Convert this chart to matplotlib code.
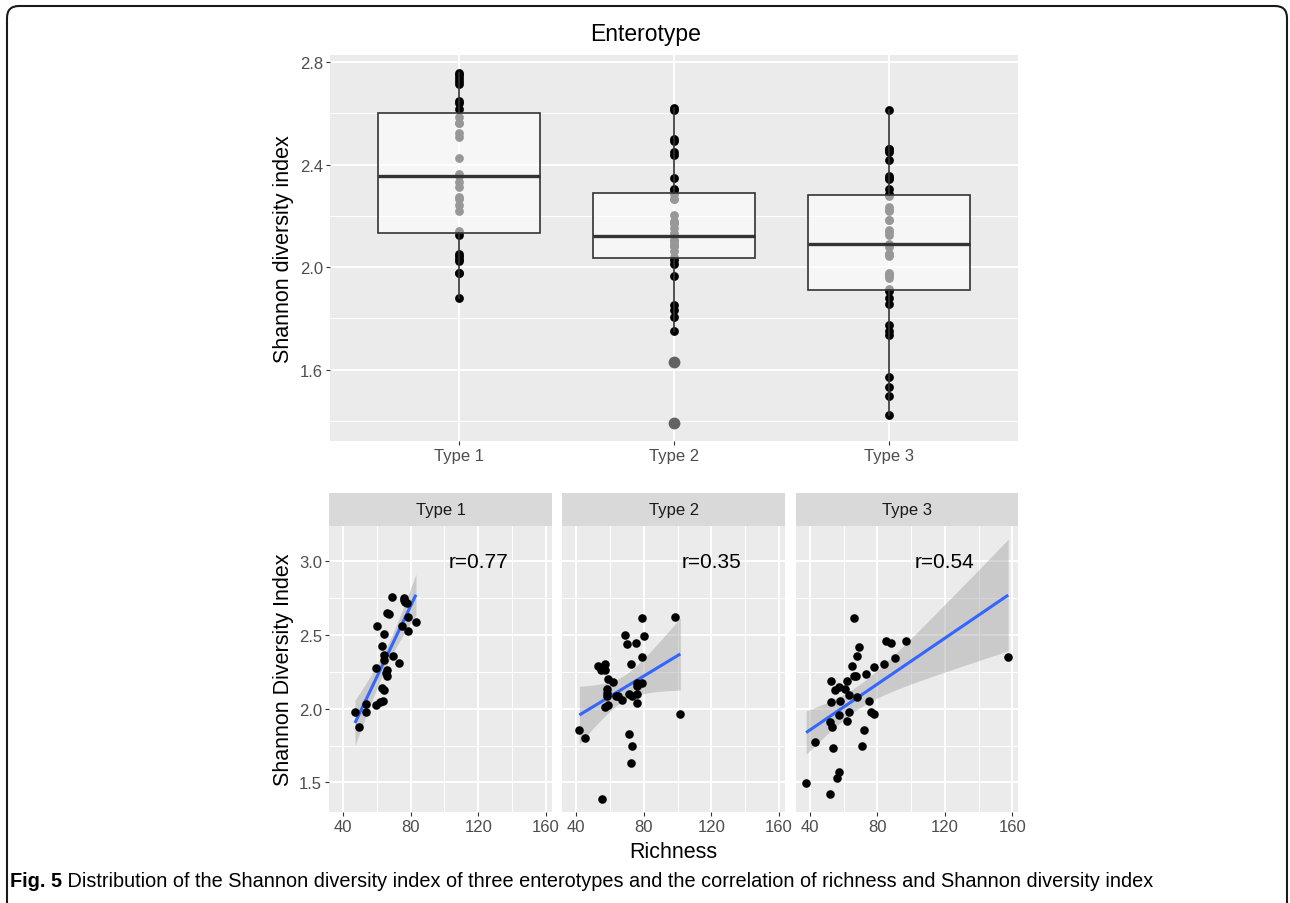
import numpy as np
import matplotlib
matplotlib.use('Agg')
import matplotlib.pyplot as plt
from matplotlib.patches import FancyBboxPatch
from matplotlib.transforms import IdentityTransform

plt.rcParams['font.family'] = ['Liberation Sans', 'DejaVu Sans']

# ---------------- data ----------------
types = ['Type 1', 'Type 2', 'Type 3']
r_labels = ['r=0.77', 'r=0.35', 'r=0.54']

t1_rich = [47.0, 49.2, 53.5, 53.5, 59.3, 59.3, 60.1, 61.7, 63.6, 62.8, 64.0, 63.2, 64.4, 64.0,
           64.4, 66.0, 67.2, 66.0, 66.0, 65.2, 69.1, 69.5, 73.2, 75.1, 76.1, 76.9, 77.7, 78.3,
           78.3, 83.1, 76.0]
t1_shan = [1.978, 1.878, 2.032, 1.978, 2.023, 2.275, 2.561, 2.043, 2.050, 2.424, 2.507, 2.140,
           2.124, 2.365, 2.331, 2.649, 2.642, 2.264, 2.219, 2.241, 2.759, 2.354, 2.311, 2.561,
           2.748, 2.726, 2.714, 2.618, 2.523, 2.585, 2.736]

t2_rich = [41.9, 45.1, 55.2, 52.7, 54.6, 57.2, 57.2, 59.1, 62.0, 58.1, 58.1, 58.1, 57.2, 59.1,
           63.4, 65.0, 66.9, 68.8, 69.8, 75.1, 72.2, 71.2, 73.1, 76.1, 76.1, 76.1, 79.0, 76.1,
           79.0, 80.0, 79.0, 71.0, 73.1, 72.2, 98.7, 101.6]
t2_shan = [1.854, 1.804, 1.390, 2.286, 2.264, 2.302, 2.264, 2.203, 2.180, 2.133, 2.106, 2.088,
           2.011, 2.027, 2.088, 2.083, 2.061, 2.500, 2.439, 2.448, 2.306, 2.101, 2.083, 2.101,
           2.038, 2.173, 2.173, 2.151, 2.613, 2.493, 2.349, 1.831, 1.750, 1.631, 2.619, 1.966]

t3_rich = [37.8, 42.8, 51.8, 53.8, 56.1, 57.1, 52.8, 54.8, 57.1, 52.8, 58.1, 51.8, 53.2, 57.1,
           62.0, 61.1, 63.2, 63.2, 62.0, 65.0, 66.0, 67.4, 68.0, 69.3, 66.0, 68.0, 72.3, 70.9,
           73.1, 75.0, 76.2, 78.2, 78.2, 84.1, 84.9, 88.0, 90.2, 97.1, 157.5]
t3_shan = [1.498, 1.775, 1.423, 1.736, 1.532, 1.570, 2.185, 2.124, 2.144, 2.043, 2.050, 1.908,
           1.878, 1.959, 2.185, 2.135, 2.091, 1.975, 1.914, 2.286, 2.223, 2.218, 2.354, 2.419,
           2.613, 2.079, 1.856, 1.750, 2.234, 2.050, 1.977, 1.964, 2.279, 2.304, 2.459, 2.448,
           2.342, 2.459, 2.347]

rich = [t1_rich, t2_rich, t3_rich]
shan = [t1_shan, t2_shan, t3_shan]

top_yticks = [1.6, 2.0, 2.4, 2.8]
top_yminor = [1.4, 1.8, 2.2, 2.6]
bot_xticks = [40, 80, 120, 160]
bot_xminor = [60, 100, 140]
bot_yticks = [1.5, 2.0, 2.5, 3.0]
bot_yminor = [1.75, 2.25, 2.75]

caption_bold = 'Fig. 5'
caption_rest = (' Distribution of the Shannon diversity index of three enterotypes and the '
                'correlation of richness and Shannon diversity index')

# ---------------- styling ----------------
W, H = 1290, 904
fig = plt.figure(figsize=(W / 100, H / 100), dpi=100)
fig.patch.set_facecolor('white')

BG = '#EBEBEB'
TICKC = '#4D4D4D'
TICK_FS = 12
TITLE_FS = 15.5


def rect(l, t, r, b):
    return [l / W, 1 - b / H, (r - l) / W, (b - t) / H]


def base_style(ax):
    ax.set_facecolor(BG)
    for s in ax.spines.values():
        s.set_visible(False)
    ax.tick_params(which='major', length=2.9, width=0.8, color='#333333',
                   labelcolor=TICKC, labelsize=TICK_FS, pad=2.2)
    ax.tick_params(which='minor', length=0)
    ax.set_axisbelow(True)


# ---------------- top: boxplot ----------------
ax = fig.add_axes(rect(330, 56, 1018, 442))
base_style(ax)
for i, vals in enumerate(shan):
    ax.scatter(np.full(len(vals), i + 1), vals, s=40, color='black', linewidths=0, zorder=2)
ax.boxplot(shan, positions=[1, 2, 3], widths=0.75, patch_artist=True, whis=1.5,
           showcaps=False, zorder=3,
           boxprops=dict(facecolor=(1, 1, 1, 0.6), edgecolor='#333333', linewidth=1.2),
           medianprops=dict(color='#333333', linewidth=2.4),
           whiskerprops=dict(color='#333333', linewidth=1.2),
           flierprops=dict(marker='o', markerfacecolor='#636363', markeredgecolor='none',
                           markersize=8.5))
ax.set_xlim(0.4, 3.6)
allv = np.concatenate([np.array(v) for v in shan])
rng = allv.max() - allv.min()
ax.set_ylim(allv.min() - 0.05 * rng, allv.max() + 0.05 * rng)
ax.set_xticks([1, 2, 3])
ax.set_xticklabels(types)
ax.set_yticks(top_yticks)
ax.set_yticklabels([f'{v:.1f}' for v in top_yticks])
ax.set_yticks(top_yminor, minor=True)
ax.grid(which='major', color='white', linewidth=1.4)
ax.grid(which='minor', axis='y', color='white', linewidth=0.7)

fig.text(646 / W, 1 - 35 / H, 'Enterotype', ha='center', va='center', fontsize=16.5,
         color='black')
fig.text(283 / W, 1 - 249 / H, 'Shannon diversity index', ha='center', va='center',
         rotation=90, fontsize=TITLE_FS, color='black')


# ---------------- bottom: facets ----------------
def t975(df):
    z = 1.959964
    return (z + (z ** 3 + z) / (4 * df) + (5 * z ** 5 + 16 * z ** 3 + 3 * z) / (96 * df ** 2)
            + (3 * z ** 7 + 19 * z ** 5 + 17 * z ** 3 - 15 * z) / (384 * df ** 3))


fits = []
for x, y in zip(rich, shan):
    x = np.array(x); y = np.array(y); n = len(x)
    b1, b0 = np.polyfit(x, y, 1)
    res = y - (b0 + b1 * x)
    s = np.sqrt(np.sum(res ** 2) / (n - 2))
    sxx = np.sum((x - x.mean()) ** 2)
    xs = np.linspace(x.min(), x.max(), 100)
    yh = b0 + b1 * xs
    se = s * np.sqrt(1 / n + (xs - x.mean()) ** 2 / sxx)
    tq = t975(n - 2)
    fits.append((xs, yh, yh - tq * se, yh + tq * se))

ally = np.concatenate([allv] + [f[2] for f in fits] + [f[3] for f in fits])
ylo, yhi = ally.min(), ally.max()
yr = yhi - ylo
allx = np.concatenate([np.array(v) for v in rich])
xr = allx.max() - allx.min()
xlim = (allx.min() - 0.05 * xr, allx.max() + 0.05 * xr)
ylim = (ylo - 0.05 * yr, yhi + 0.05 * yr)

lefts = [329.3, 562.3, 796.0]
rights = [551.7, 785.0, 1018.3]
for k in range(3):
    ax = fig.add_axes(rect(lefts[k], 527.3, rights[k], 812.7))
    base_style(ax)
    xs, yh, lo, hi = fits[k]
    ax.fill_between(xs, lo, hi, color='#999999', alpha=0.4, linewidth=0, zorder=2)
    ax.plot(xs, yh, color='#3366FF', linewidth=2.2, zorder=3, solid_capstyle='butt')
    ax.scatter(rich[k], shan[k], s=38, color='black', linewidths=0, zorder=4)
    ax.text(120, 3.0, r_labels[k], ha='center', va='center', fontsize=15, color='black',
            zorder=5)
    ax.set_xlim(*xlim)
    ax.set_ylim(*ylim)
    ax.set_xticks(bot_xticks)
    ax.set_xticklabels([str(v) for v in bot_xticks])
    ax.set_xticks(bot_xminor, minor=True)
    ax.set_yticks(bot_yticks)
    ax.set_yticks(bot_yminor, minor=True)
    if k == 0:
        ax.set_yticklabels([f'{v:.1f}' for v in bot_yticks])
    else:
        ax.tick_params(axis='y', which='major', length=0, labelleft=False)
    ax.grid(which='major', color='white', linewidth=1.4)
    ax.grid(which='minor', color='white', linewidth=0.7)

    sax = fig.add_axes(rect(lefts[k], 494, rights[k], 527.3))
    sax.set_facecolor('#D9D9D9')
    for s in sax.spines.values():
        s.set_visible(False)
    sax.set_xticks([]); sax.set_yticks([])
    sax.text(0.5, 0.5, types[k], ha='center', va='center', fontsize=12, color='#1A1A1A',
             transform=sax.transAxes)

fig.text(673.7 / W, 1 - 853 / H, 'Richness', ha='center', va='center', fontsize=TITLE_FS,
         color='black')
fig.text(283 / W, 1 - 670 / H, 'Shannon Diversity Index', ha='center', va='center',
         rotation=90, fontsize=TITLE_FS, color='black')

# ---------------- caption & frame ----------------
cap_fam = ['Liberation Sans Narrow', 'Liberation Sans', 'DejaVu Sans']
t1 = fig.text(10 / W, 1 - 887 / H, caption_bold, fontsize=13, fontweight='bold',
              family=cap_fam, va='baseline', ha='left', color='black')
t2 = fig.text(0, 0, caption_rest, fontsize=13, family=cap_fam, va='baseline', ha='left',
              color='black')
renderer = fig.canvas.get_renderer()
target = 1150 - 10
w_total = t1.get_window_extent(renderer).width + t2.get_window_extent(renderer).width
scale = target / w_total
t1.set_fontsize(13 * scale)
t2.set_fontsize(13 * scale)
bb = t1.get_window_extent(renderer)
t2.set_position((bb.x1 / W, 1 - 887 / H))

frame = FancyBboxPatch((7, -40), 1280, H - 7 + 40,
                       boxstyle='round,pad=0,rounding_size=12',
                       transform=IdentityTransform(), fill=False, linewidth=1.5,
                       edgecolor='#1A1A1A')
fig.add_artist(frame)

fig.savefig('out.png', dpi=100)
